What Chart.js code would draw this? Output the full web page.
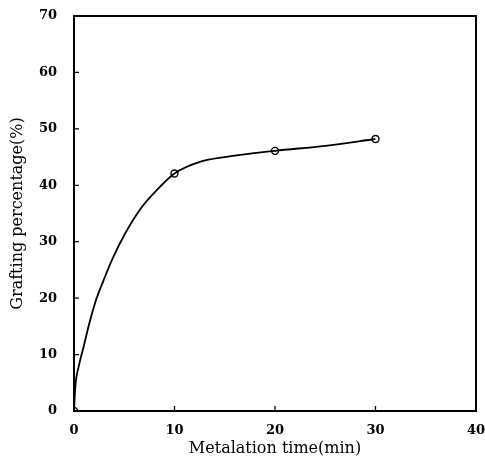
<!DOCTYPE html>
<html>
<head>
<meta charset="utf-8">
<script src="https://cdn.jsdelivr.net/npm/chart.js@4"></script>
<style>
  body { margin: 0; background: #fff; }
  #wrap { width: 485px; height: 465px; }
</style>
</head>
<body>
<div id="wrap"><canvas id="graftChart" width="485" height="465"></canvas></div>
<script>
// measured points (open circles)
const times = [0, 10, 20, 30];
const grafting = [0, 42.1, 46.1, 48.2];

// drawn curve
const curveTimes = [0, 0.13, 0.47, 0.96, 1.52, 2.2, 2.95, 3.78, 5.1, 6.77, 8.26, 10, 12.6, 15, 20, 25, 30];
const curveValues = [0, 4.3, 7.9, 11.4, 15.5, 19.7, 23.2, 26.8, 31.5, 36.2, 39.2, 42.1, 44.2, 45.0, 46.1, 47.0, 48.2];

const xTicks = [0, 10, 20, 30, 40];
const yTicks = [0, 10, 20, 30, 40, 50, 60, 70];

const ctxEl = document.getElementById("graftChart");

const toXY = (xs, ys) => xs.map((x, i) => ({x: x, y: ys[i]}));

// frame + inward tick marks
const frameTicks = {
  id: 'frameTicks',
  afterDraw(chart) {
    const c = chart.ctx;
    const a = chart.chartArea;
    const xs = chart.scales.x, ys = chart.scales.y;
    c.save();
    c.strokeStyle = '#000';
    c.lineWidth = 2;
    c.strokeRect(a.left, a.top, a.right - a.left, a.bottom - a.top);
    c.lineWidth = 1.3;
    c.beginPath();
    yTicks.forEach(v => {
      const p = ys.getPixelForValue(v);
      c.moveTo(a.left, p);
      c.lineTo(a.left + 5, p);
    });
    xTicks.forEach(v => {
      const p = xs.getPixelForValue(v);
      c.moveTo(p, a.bottom);
      c.lineTo(p, a.bottom - 5);
    });
    c.stroke();
    c.restore();
  }
};

// tick padding should not push the plot area in
const noEdgePad = s => {
  s.paddingTop = 0; s.paddingBottom = 0;
  s.paddingLeft = 0; s.paddingRight = 0;
};

const tickFont = {family: 'DejaVu Serif', size: 13, weight: 'bold'};
const titleFont = {family: 'DejaVu Serif', size: 16};

new Chart(ctxEl, {
  type: 'scatter',
  data: {
    datasets: [{
      data: toXY(curveTimes, curveValues),
      showLine: true,
      borderColor: '#000',
      borderWidth: 1.8,
      pointRadius: 0,
      cubicInterpolationMode: 'monotone'
    }, {
      data: toXY(times, grafting),
      showLine: false,
      pointRadius: 3.5,
      pointBorderWidth: 1.4,
      pointBorderColor: '#000',
      pointBackgroundColor: '#fff'
    }]
  },
  options: {
    responsive: false,
    animation: false,
    layout: {padding: {left: 0, top: 16, right: 9, bottom: 0}},
    plugins: {
      legend: {display: false},
      tooltip: {enabled: false}
    },
    scales: {
      x: {
        min: 0,
        max: 40,
        afterBuildTicks: s => { s.ticks = xTicks.map(v => ({value: v})); },
        afterFit: s => { s.height = 54; noEdgePad(s); },
        grid: {display: false, drawTicks: false},
        border: {display: false},
        ticks: {color: '#000', font: tickFont, padding: 12, maxRotation: 0},
        title: {display: true, text: 'Metalation time(min)', color: '#000', font: titleFont, padding: {top: 0, bottom: 7}}
      },
      y: {
        min: 0,
        max: 70,
        afterBuildTicks: s => { s.ticks = yTicks.map(v => ({value: v})); },
        afterFit: s => { s.width = 74; noEdgePad(s); },
        grid: {display: false, drawTicks: false},
        border: {display: false},
        ticks: {color: '#000', font: tickFont, padding: 17},
        title: {display: true, text: 'Grafting percentage(%)', color: '#000', font: titleFont, padding: {top: 8, bottom: 0}}
      }
    }
  },
  plugins: [frameTicks]
});
</script>
</body>
</html>
